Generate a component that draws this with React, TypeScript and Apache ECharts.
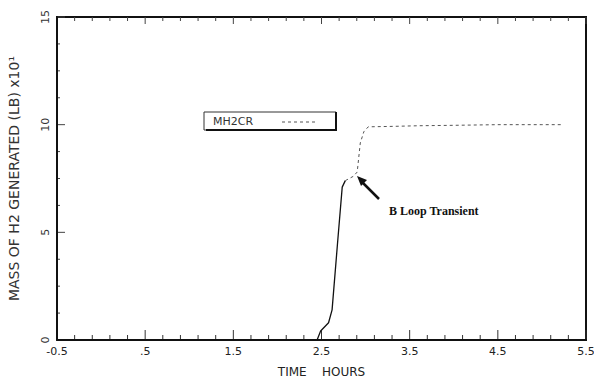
import React, { useEffect, useRef } from "react";
import * as echarts from "echarts";

// Time (hours) and hydrogen mass (LB x10)
const riseTime = [2.4, 2.45, 2.49, 2.58, 2.62, 2.68, 2.735, 2.77];
const riseMass = [0, 0, 0.42, 0.8, 1.4, 4.4, 7.1, 7.4];
const plateauTime = [2.77, 2.86, 2.905, 2.94, 2.98, 3.03, 3.3, 3.6, 4.0, 4.5, 5.0, 5.22];
const plateauMass = [7.4, 7.6, 7.8, 9.15, 9.67, 9.9, 9.92, 9.95, 9.97, 10.0, 10.0, 10.0];
const xTickLabels = ["-0.5", ".5", "1.5", "2.5", "3.5", "4.5", "5.5"];
const yTickLabels = ["0", "5", "10", "15"];
const legendName = "MH2CR";
const annotation = "B Loop Transient";

const X_OFFSET = 0.5; // axis runs 0..6 internally so ticks land on -0.5, 0.5, ...
const X_MAX = 6;
const Y_MAX = 15;

const W = 594;
const H = 378;
const GRID = { left: 57, right: 8, top: 17, bottom: 38 };

// tick positions (major every unit / 5 units, minor subdivisions)
const xTicks: number[][] = [];
for (let i = 0; i <= X_MAX * 5; i++) xTicks.push([i / 5, i % 5 === 0 ? 1 : 0]);
const yTicks: number[][] = [];
for (let i = 0; i <= (Y_MAX * 4) / 5; i++) yTicks.push([i * 1.25, i % 4 === 0 ? 1 : 0]);

export default function App() {
  const ref = useRef<HTMLDivElement>(null);
  useEffect(() => {
    if (!ref.current) return;
    const chart = echarts.init(ref.current, null, { renderer: "svg" });
    const font = "DejaVu Sans";

    // pixel mapping of the grid (same geometry as the grid option below)
    const x0 = GRID.left;
    const x1 = W - GRID.right;
    const y0 = H - GRID.bottom;
    const y1 = GRID.top;
    const px = (x: number, y: number) => [x0 + (x / X_MAX) * (x1 - x0), y0 - (y / Y_MAX) * (y0 - y1)];

    const frameAndTicks: any[] = [];
    frameAndTicks.push({
      type: "polyline",
      shape: { points: [[x0, y0], [x0, y1], [x1, y1], [x1, y0], [x0, y0]] },
      style: { stroke: "#111", lineWidth: 2, fill: null },
    });
    xTicks.forEach(([x, major]) => {
      const pb = px(x, 0);
      const pt = px(x, Y_MAX);
      const lb = major ? 10 : 5;
      const lt = major ? 7 : 4;
      frameAndTicks.push({
        type: "line",
        shape: { x1: pb[0], y1: pb[1], x2: pb[0], y2: pb[1] - lb },
        style: { stroke: "#333", lineWidth: 1 },
      });
      frameAndTicks.push({
        type: "line",
        shape: { x1: pt[0], y1: pt[1], x2: pt[0], y2: pt[1] + lt },
        style: { stroke: "#444", lineWidth: 1 },
      });
    });
    yTicks.forEach(([y, major]) => {
      const p = px(0, y);
      frameAndTicks.push({
        type: "line",
        shape: { x1: p[0], y1: p[1], x2: p[0] + (major ? 8 : 3), y2: p[1] },
        style: { stroke: "#444", lineWidth: 1 },
      });
    });

    chart.setOption({
      animation: false,
      backgroundColor: "#fff",
      grid: { ...GRID, containLabel: false, outerBoundsMode: "none" },
      xAxis: {
        type: "value",
        min: 0,
        max: X_MAX,
        interval: 1,
        axisLine: { show: true, lineStyle: { color: "#111", width: 2 } },
        axisTick: { show: false },
        splitLine: { show: false },
        name: "TIME    HOURS",
        nameLocation: "middle",
        nameGap: 26,
        nameTextStyle: { fontFamily: font, fontSize: 12, color: "#222" },
        axisLabel: {
          fontFamily: font,
          fontSize: 11,
          color: "#222",
          margin: 6,
          formatter: (v: number) => xTickLabels[Math.round(v)] ?? "",
        },
      },
      yAxis: {
        type: "value",
        min: 0,
        max: Y_MAX,
        interval: 5,
        axisLine: { show: true, lineStyle: { color: "#111", width: 2 } },
        axisTick: { show: false },
        splitLine: { show: false },
        name: "MASS OF H2 GENERATED (LB) x10¹",
        nameLocation: "middle",
        nameRotate: 90,
        nameGap: 36,
        nameTextStyle: { fontFamily: font, fontSize: 14, color: "#333" },
        axisLabel: {
          fontFamily: font,
          fontSize: 11,
          color: "#333",
          rotate: 90,
          margin: 6,
          formatter: (v: number) => yTickLabels[Math.round(v / 5)] ?? "",
        },
      },
      series: [
        {
          type: "line",
          showSymbol: false,
          data: riseTime.map((t, i) => [t + X_OFFSET, riseMass[i]]),
          lineStyle: { color: "#111", width: 1.3 },
        },
        {
          type: "line",
          showSymbol: false,
          data: plateauTime.map((t, i) => [t + X_OFFSET, plateauMass[i]]),
          lineStyle: { color: "#555", width: 1, type: [3, 3] },
        },
      ],
      graphic: [
        ...frameAndTicks,
        {
          type: "rect",
          shape: { x: 204, y: 112, width: 132, height: 18 },
          style: { fill: "#fff", stroke: "#333", lineWidth: 1 },
        },
        {
          type: "polyline",
          shape: { points: [[336, 112], [336, 130], [206, 130]] },
          style: { stroke: "#111", lineWidth: 2, fill: null },
        },
        {
          type: "text",
          x: 213,
          y: 121,
          style: { text: legendName, fontFamily: font, fontSize: 11, fill: "#333", verticalAlign: "middle" },
        },
        {
          type: "line",
          shape: { x1: 282, y1: 122, x2: 318, y2: 122 },
          style: { stroke: "#555", lineWidth: 1, lineDash: [3, 3] },
        },
        {
          type: "line",
          shape: { x1: 379, y1: 199, x2: 362, y2: 182 },
          style: { stroke: "#111", lineWidth: 2.5 },
        },
        {
          type: "polygon",
          shape: { points: [[357, 176], [367, 180], [361, 186]] },
          style: { fill: "#111" },
        },
        {
          type: "text",
          x: 389,
          y: 211,
          style: {
            text: annotation,
            fontFamily: "Liberation Serif",
            fontWeight: "bold",
            fontSize: 12,
            fill: "#111",
            verticalAlign: "middle",
          },
        },
      ],
    });
    return () => chart.dispose();
  }, []);
  return <div ref={ref} style={{ width: W, height: H, position: "absolute", left: 0, top: 0 }} />;
}
